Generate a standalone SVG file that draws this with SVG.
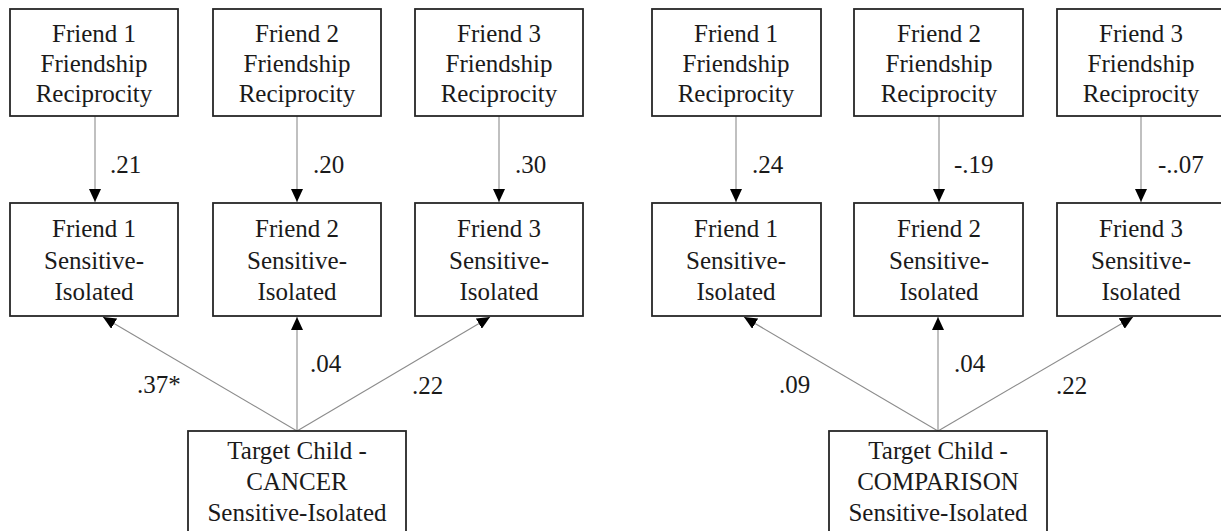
<svg xmlns="http://www.w3.org/2000/svg" width="1221" height="531" viewBox="0 0 1221 531" font-family="Liberation Serif">
<defs>
<style>
.box{fill:#fff;stroke:#262626;stroke-width:1.8}
.t{font-size:25px;fill:#1a1a1a;text-anchor:middle}
.l{font-size:25px;fill:#1a1a1a}
.c{stroke:#8c8c8c;stroke-width:1.1;fill:none;marker-end:url(#ah)}
</style>
<marker id="ah" markerWidth="13" markerHeight="12" refX="13" refY="6" orient="auto" markerUnits="userSpaceOnUse" viewBox="0 0 13 12">
<path d="M0,0 L13,6 L0,12 z" fill="#000"/>
</marker>
</defs>
<rect width="1221" height="531" fill="#fff"/>

<g id="connectors">
<line class="c" x1="95" y1="116" x2="95" y2="202"/>
<line class="c" x1="297" y1="116" x2="297" y2="202"/>
<line class="c" x1="499" y1="116" x2="499" y2="202"/>
<line class="c" x1="736" y1="116" x2="736" y2="202"/>
<line class="c" x1="939" y1="116" x2="939" y2="202"/>
<line class="c" x1="1141" y1="116" x2="1141" y2="202"/>
<line class="c" x1="297" y1="431" x2="103" y2="317"/>
<line class="c" x1="297" y1="431" x2="297" y2="317"/>
<line class="c" x1="297" y1="431" x2="490" y2="317"/>
<line class="c" x1="938" y1="431" x2="744" y2="317"/>
<line class="c" x1="938" y1="431" x2="938" y2="317"/>
<line class="c" x1="938" y1="431" x2="1133" y2="317"/>
<text class="l" font-family="Liberation Serif" x="110" y="173">.21</text>
<text class="l" font-family="Liberation Serif" x="313" y="173">.20</text>
<text class="l" font-family="Liberation Serif" x="515" y="173">.30</text>
<text class="l" font-family="Liberation Serif" x="752" y="173">.24</text>
<text class="l" font-family="Liberation Serif" x="954" y="173">-.19</text>
<text class="l" font-family="Liberation Serif" x="1158" y="173">-..07</text>
<text class="l" font-family="Liberation Serif" x="137" y="393">.37*</text>
<text class="l" font-family="Liberation Serif" x="310" y="372">.04</text>
<text class="l" font-family="Liberation Serif" x="412" y="394">.22</text>
<text class="l" font-family="Liberation Serif" x="779" y="393">.09</text>
<text class="l" font-family="Liberation Serif" x="954" y="372">.04</text>
<text class="l" font-family="Liberation Serif" x="1056" y="394">.22</text>
</g>

<g id="L_FR1"><rect class="box" x="10" y="9" width="168" height="107"/><text class="t" font-family="Liberation Serif"><tspan x="94" y="42">Friend 1</tspan><tspan x="94" y="72">Friendship</tspan><tspan x="94" y="102">Reciprocity</tspan></text></g>
<g id="L_FR2"><rect class="box" x="213" y="9" width="168" height="107"/><text class="t" font-family="Liberation Serif"><tspan x="297" y="42">Friend 2</tspan><tspan x="297" y="72">Friendship</tspan><tspan x="297" y="102">Reciprocity</tspan></text></g>
<g id="L_FR3"><rect class="box" x="415" y="9" width="168" height="107"/><text class="t" font-family="Liberation Serif"><tspan x="499" y="42">Friend 3</tspan><tspan x="499" y="72">Friendship</tspan><tspan x="499" y="102">Reciprocity</tspan></text></g>

<g id="L_SI1"><rect class="box" x="10" y="203" width="168" height="113"/><text class="t" font-family="Liberation Serif"><tspan x="94" y="237">Friend 1</tspan><tspan x="94" y="269">Sensitive-</tspan><tspan x="94" y="300">Isolated</tspan></text></g>
<g id="L_SI2"><rect class="box" x="213" y="203" width="168" height="113"/><text class="t" font-family="Liberation Serif"><tspan x="297" y="237">Friend 2</tspan><tspan x="297" y="269">Sensitive-</tspan><tspan x="297" y="300">Isolated</tspan></text></g>
<g id="L_SI3"><rect class="box" x="415" y="203" width="168" height="113"/><text class="t" font-family="Liberation Serif"><tspan x="499" y="237">Friend 3</tspan><tspan x="499" y="269">Sensitive-</tspan><tspan x="499" y="300">Isolated</tspan></text></g>

<g id="L_target"><rect class="box" x="188" y="431" width="218" height="104"/><text class="t" font-family="Liberation Serif"><tspan x="297" y="459">Target Child -</tspan><tspan x="297" y="490">CANCER</tspan><tspan x="297" y="521">Sensitive-Isolated</tspan></text></g>

<g id="R_FR1"><rect class="box" x="652" y="9" width="169" height="107"/><text class="t" font-family="Liberation Serif"><tspan x="736" y="42">Friend 1</tspan><tspan x="736" y="72">Friendship</tspan><tspan x="736" y="102">Reciprocity</tspan></text></g>
<g id="R_FR2"><rect class="box" x="854" y="9" width="169" height="107"/><text class="t" font-family="Liberation Serif"><tspan x="939" y="42">Friend 2</tspan><tspan x="939" y="72">Friendship</tspan><tspan x="939" y="102">Reciprocity</tspan></text></g>
<g id="R_FR3"><rect class="box" x="1057" y="9" width="169" height="107"/><text class="t" font-family="Liberation Serif"><tspan x="1141" y="42">Friend 3</tspan><tspan x="1141" y="72">Friendship</tspan><tspan x="1141" y="102">Reciprocity</tspan></text></g>

<g id="R_SI1"><rect class="box" x="652" y="203" width="169" height="113"/><text class="t" font-family="Liberation Serif"><tspan x="736" y="237">Friend 1</tspan><tspan x="736" y="269">Sensitive-</tspan><tspan x="736" y="300">Isolated</tspan></text></g>
<g id="R_SI2"><rect class="box" x="854" y="203" width="169" height="113"/><text class="t" font-family="Liberation Serif"><tspan x="939" y="237">Friend 2</tspan><tspan x="939" y="269">Sensitive-</tspan><tspan x="939" y="300">Isolated</tspan></text></g>
<g id="R_SI3"><rect class="box" x="1057" y="203" width="169" height="113"/><text class="t" font-family="Liberation Serif"><tspan x="1141" y="237">Friend 3</tspan><tspan x="1141" y="269">Sensitive-</tspan><tspan x="1141" y="300">Isolated</tspan></text></g>

<g id="R_target"><rect class="box" x="829" y="431" width="218" height="104"/><text class="t" font-family="Liberation Serif"><tspan x="938" y="459">Target Child -</tspan><tspan x="938" y="490">COMPARISON</tspan><tspan x="938" y="521">Sensitive-Isolated</tspan></text></g>
</svg>
